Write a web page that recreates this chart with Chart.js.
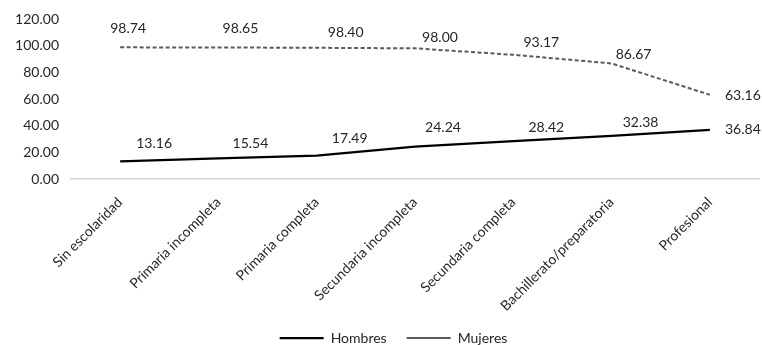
<!DOCTYPE html>
<html>
<head>
<meta charset="utf-8">
<script src="https://cdn.jsdelivr.net/npm/chart.js@4/dist/chart.umd.min.js"></script>
<style>
  html, body { margin: 0; padding: 0; background: #ffffff; }
  #wrap { width: 762px; height: 345px; position: relative; }
</style>
</head>
<body>
<div id="wrap"><canvas id="c"></canvas></div>
<script>
// Nivel de escolaridad
const categories = [
  'Sin escolaridad',
  'Primaria incompleta',
  'Primaria completa',
  'Secundaria incompleta',
  'Secundaria completa',
  'Bachillerato/preparatoria',
  'Profesional'
];
const hombres = [13.16, 15.54, 17.49, 24.24, 28.42, 32.38, 36.84];
const mujeres = [98.74, 98.65, 98.40, 98.00, 93.17, 86.67, 63.16];
const yTicks = [0, 20, 40, 60, 80, 100, 120];

// Where each value label sits relative to its point (px)
const labelShift = [
  { dx: [34, 32, 33, 28, 33, 29, 33], dy: [-18, -15, -17, -19, -14, -13, 0] },
  { dx: [8, 22, 29, 25, 28, 22, 33], dy: [-19, -19, -15, -11, -12, -9, 1] }
];

const FONT = 'Lato, "Open Sans", sans-serif';
const TEXT = '#262626';

// Writes each point's value next to it
const valueLabels = {
  id: 'valueLabels',
  afterDatasetsDraw(chart) {
    const ctx = chart.ctx;
    ctx.save();
    ctx.font = '14px ' + FONT;
    ctx.fillStyle = TEXT;
    ctx.textAlign = 'center';
    ctx.textBaseline = 'middle';
    chart.data.datasets.forEach((ds, di) => {
      const meta = chart.getDatasetMeta(di);
      meta.data.forEach((pt, i) => {
        const s = labelShift[di];
        ctx.fillText(ds.data[i].toFixed(2), pt.x + s.dx[i], pt.y + s.dy[i]);
      });
    });
    ctx.restore();
  }
};

// Nudges the legend block into place under the plot and lets the
// slanted category labels use the room above it
const legendNudge = {
  id: 'legendNudge',
  afterLayout(chart) {
    const lg = chart.legend;
    if (!lg) return;
    lg.left += 14; lg.right += 14;
    lg.top += 10; lg.bottom += 10;
    chart.scales.x.bottom = lg.top;
  }
};

new Chart(document.getElementById('c'), {
  type: 'line',
  data: {
    labels: categories,
    datasets: [
      {
        label: 'Hombres',
        data: hombres,
        borderColor: '#000000',
        backgroundColor: '#000000',
        borderWidth: 2.25,
        pointRadius: 0,
        pointHoverRadius: 0,
        tension: 0,
        fill: false
      },
      {
        label: 'Mujeres',
        data: mujeres,
        borderColor: '#5a5a5a',
        backgroundColor: '#5a5a5a',
        borderWidth: 2,
        borderDash: [4, 2.5],
        pointRadius: 0,
        pointHoverRadius: 0,
        tension: 0,
        fill: false
      }
    ]
  },
  options: {
    responsive: true,
    maintainAspectRatio: false,
    animation: false,
    devicePixelRatio: 1,
    layout: { padding: { top: 19, right: 3, bottom: 0, left: 0 } },
    plugins: {
      tooltip: { enabled: false },
      legend: {
        position: 'bottom',
        labels: {
          usePointStyle: true,
          pointStyle: 'line',
          pointStyleWidth: 44,
          padding: 20,
          color: TEXT,
          font: { family: FONT, size: 14 }
        }
      }
    },
    scales: {
      x: {
        offset: true,
        grid: { display: false },
        border: { display: true, color: '#d4d4d4', width: 1.5 },
        ticks: {
          color: TEXT,
          font: { family: FONT, size: 14 },
          minRotation: 45,
          maxRotation: 45,
          padding: 7,
          autoSkip: false
        },
        afterFit(scale) { scale.height = 122; }
      },
      y: {
        min: 0,
        max: 120,
        grid: { display: false },
        border: { display: false },
        afterBuildTicks(scale) { scale.ticks = yTicks.map(v => ({ value: v })); },
        ticks: {
          color: TEXT,
          font: { family: FONT, size: 14 },
          padding: 4,
          callback: v => Number(v).toFixed(2)
        },
        afterFit(scale) { scale.width = 71; }
      }
    }
  },
  plugins: [valueLabels, legendNudge]
});
</script>
</body>
</html>
